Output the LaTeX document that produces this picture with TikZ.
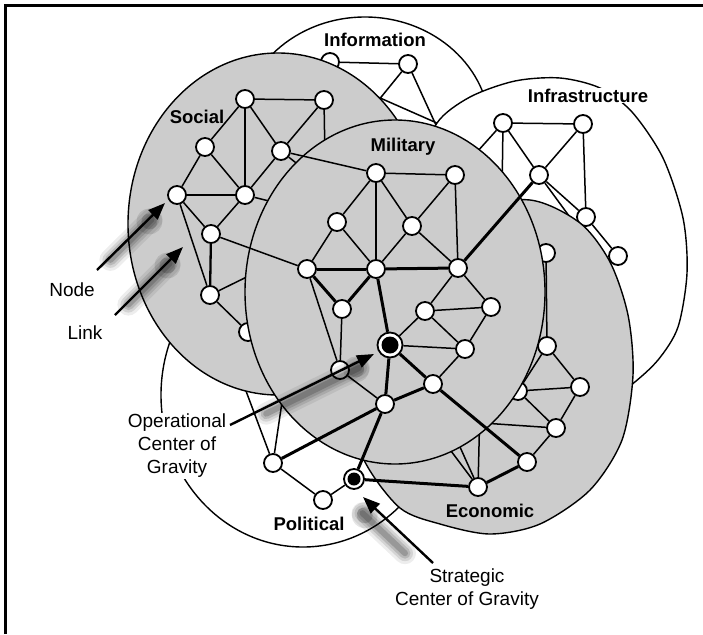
\documentclass[tikz,border=0pt]{standalone}
\usepackage{fontspec}
\setmainfont{Liberation Sans}
\usetikzlibrary{arrows.meta,calc}
\definecolor{eg}{RGB}{204,204,204}
\begin{document}
\begin{tikzpicture}[x=1pt,y=-1pt,
  nd/.style={circle,draw=black,line width=1.8pt,fill=white,minimum size=18pt,inner sep=0pt},
  lk/.style={line width=1.5pt},
  tk/.style={line width=3pt},
  mk/.style={line width=2.3pt},
  region/.style={draw=black,line width=1.4pt},
  ttl/.style={font=\fontsize{18.5}{20}\selectfont\bfseries,anchor=base,inner sep=1pt},
  lbl/.style={font=\fontsize{19}{23}\selectfont,inner sep=1.5pt},
  ocog/.style={circle,draw=black,line width=1.8pt,fill=white,minimum size=25pt,inner sep=0pt,
     path picture={\fill[black] (path picture bounding box.center) circle (8.5pt);}},
  scog/.style={circle,draw=black,line width=1.8pt,fill=white,minimum size=20pt,inner sep=0pt,
     path picture={\fill[black] (path picture bounding box.center) circle (6.5pt);}},
  arr/.style={line width=2.4pt,-{Triangle[length=17pt,width=13pt]}},
  shd/.style={line cap=round,black}
]
\useasboundingbox (0,0) rectangle (703,634);
\fill[white] (0,0) rectangle (703,634);
\draw[line width=3pt] (5.5,634) -- (5.5,6) -- (703,6);

% ---------- Information ----------
\draw[region,fill=white] (365,130) ellipse [x radius=125, y radius=113];
\node[nd] (i1) at (330,62) {};
\node[nd] (i2) at (408,64) {};
\coordinate (ha1) at (369,112);
\coordinate (ha2) at (362,90);
\coordinate (hb1) at (441,136);
\coordinate (hb2) at (455,131);
\draw[lk] (i1) -- (i2);
\draw[lk] (i2) -- (ha1);
\draw[lk] (i2) -- (hb1);
\draw[lk] (ha2) -- (hb2);
\node[ttl] (tinfo) at (375,47) {Information};

% ---------- Infrastructure ----------
\draw[region,fill=white] plot[smooth cycle] coordinates {(437,123) (470,97) (515,81) (560,78) (600,88) (632,112) (663,158) (683,218) (687,273) (678,327) (658,360) (630,386) (590,415) (530,400) (470,340) (430,240) (422,170)};
\node[nd] (n1) at (503,123) {};
\node[nd] (n2) at (583,124) {};
\node[nd] (n3) at (539,175) {};
\node[nd] (n4) at (586,217) {};
\node[nd] (n5) at (618,256) {};
\coordinate (hn1) at (468,162);
\coordinate (hn2) at (502,195);
\coordinate (hn3) at (616,280);
\draw[lk] (n1) -- (n2);
\draw[lk] (n1) -- (n3);
\draw[lk] (n2) -- (n3);
\draw[lk] (n2) -- (n4);
\draw[lk] (n3) -- (n4);
\draw[lk] (n4) -- (n5);
\draw[lk] (n1) -- (hn1);
\draw[lk] (n1) -- (hn2);
\draw[lk] (n3) -- (hn3);
\node[ttl,fill=white] (tinfra) at (588,102) {Infrastructure};

% ---------- Political ----------
\draw[region,fill=white] (303,395) ellipse [x radius=142, y radius=152];
\node[nd] (p1) at (273,463) {};
\node[nd] (p2) at (323,500) {};
\coordinate (hp1) at (240,375);
\coordinate (hp2) at (286,375);
\draw[lk] (p1) -- (hp1);
\draw[lk] (p1) -- (hp2);
\draw[lk] (p1) -- (p2);
\node[ttl] (tpol) at (309,530) {Political};

% ---------- Social ----------
\draw[region,fill=eg] (278,224) ellipse [x radius=150, y radius=171];
\node[nd] (s1) at (245,99) {};
\node[nd] (s2) at (324,100) {};
\node[nd] (s3) at (205,147) {};
\node[nd] (s4) at (281,151) {};
\node[nd] (s5) at (177,195) {};
\node[nd] (s6) at (245,195) {};
\node[nd] (s7) at (211,234) {};
\node[nd] (s8) at (210,295) {};
\node[nd] (s9) at (248,332) {};
\coordinate (hs1) at (265,268);
\coordinate (hs2) at (285,205);
\coordinate (hs3) at (305,170);
\coordinate (hs4) at (325,160);
\draw[lk] (s1) -- (s2);
\draw[lk] (s1) -- (s3);
\draw[lk] (s1) -- (s6);
\draw[lk] (s1) -- (s4);
\draw[lk] (s2) -- (s4);
\draw[lk] (s2) -- (hs4);
\draw[lk] (s3) -- (s5);
\draw[lk] (s3) -- (s6);
\draw[lk] (s4) -- (s6);
\draw[lk] (s4) -- (hs3);
\draw[lk] (s5) -- (s6);
\draw[lk] (s6) -- (s7);
\draw[lk] (s6) -- (hs2);
\draw[lk] (s5) -- (s7);
\draw[lk] (s5) -- (s8);
\draw[mk] (s7) -- (s8);
\draw[lk] (s8) -- (hs1);
\draw[lk] (s8) -- (s9);
\node[ttl] (tsoc) at (197,123) {Social};

% ---------- Economic ----------
\draw[region,fill=eg] plot[smooth cycle] coordinates {(530,200) (580,223) (610,262) (628,315) (633,375) (622,440) (590,490) (540,524) (490,534) (440,524) (400,508) (365,462) (345,400) (360,320) (400,255) (460,210)};
\node[nd] (e1) at (546,253) {};
\node[nd] (e2) at (547,346) {};
\node[nd] (e3) at (580,387) {};
\node[nd] (e4) at (518,391) {};
\node[nd] (e5) at (556,428) {};
\node[nd] (e6) at (527,462) {};
\node[nd] (e7) at (478,487) {};
\coordinate (he1) at (468,422);
\coordinate (he2) at (480,405);
\coordinate (he3) at (436,431);
\coordinate (he4) at (451,427);
\draw[lk] (e1) -- (e2);
\draw[lk] (e2) -- (e3);
\draw[lk] (e2) -- (e4);
\draw[lk] (e4) -- (e3);
\draw[lk] (e3) -- (e5);
\draw[lk] (e4) -- (e5);
\draw[lk] (e5) -- (e6);
\draw[lk] (e5) -- (he1);
\draw[tk] (e6) -- (e7);
\draw[lk] (e7) -- (he2);
\draw[lk] (e7) -- (he3);
\draw[lk] (e7) -- (he4);
\node[ttl] (teco) at (490,517) {Economic};

% ---------- Military ----------
\draw[region,fill=eg] (395,292) ellipse [x radius=150, y radius=172];
\node[nd] (m1) at (376,173) {};
\node[nd] (m2) at (455,175) {};
\node[nd] (m3) at (337,222) {};
\node[nd] (m4) at (412,226) {};
\node[nd] (m5) at (307,269) {};
\node[nd] (m6) at (376,269) {};
\node[nd] (m7) at (458,268) {};
\node[nd] (m8) at (342,309) {};
\node[nd] (m9) at (425,311) {};
\node[nd] (m10) at (491,307) {};
\node[nd] (m11) at (465,349) {};
\node[nd] (m12) at (433,384) {};
\node[nd] (m13) at (385,404) {};
\node[nd] (m14) at (340,370) {};
\node[ocog] (oc) at (390,345) {};
\draw[lk] (m1) -- (m2);
\draw[lk] (m1) -- (m3);
\draw[lk] (m1) -- (m4);
\draw[lk] (m1) -- (m6);
\draw[lk] (m2) -- (m4);
\draw[lk] (m2) -- (m7);
\draw[lk] (m3) -- (m5);
\draw[lk] (m3) -- (m6);
\draw[lk] (m4) -- (m6);
\draw[lk] (m4) -- (m7);
\draw[lk] (m7) -- (m9);
\draw[lk] (m7) -- (m10);
\draw[lk] (m9) -- (m10);
\draw[lk] (m9) -- (oc);
\draw[lk] (m9) -- (m11);
\draw[lk] (m10) -- (m11);
\draw[lk] (oc) -- (m11);
\draw[lk] (m11) -- (m12);
\draw[lk] (m5) -- (m14);
\draw[lk] (m8) -- (m14);
\draw[lk] (m14) -- (m13);
\draw[tk] (m5) -- (m6);
\draw[tk] (m6) -- (m7);
\draw[tk] (m5) -- (m8);
\draw[tk] (m6) -- (m8);
\draw[tk] (m6) -- (oc);
\draw[tk] (oc) -- (m12);
\draw[tk] (oc) -- (m13);
\draw[tk] (m12) -- (m13);
\node[ttl] (tmil) at (403,151) {Military};

% ---------- links between domains ----------
\node[scog] (sc) at (354,479) {};
\draw[lk] (s4) -- (m1);
\draw[lk] (s7) -- (m5);
\draw[tk] (m7) -- (n3);
\draw[tk] (m12) -- (e6);
\draw[tk] (m13) -- (p1);
\draw[tk] (m13) -- (sc);
\draw[tk] (sc) -- (e7);
\draw[lk] (sc) -- (p2);

% ---------- callouts ----------
\node[lbl] (tnode) at (72,290) {Node};
\node[lbl] (tlink) at (85,333) {Link};
\node[lbl,fill=white,align=center] (tog) at (177,446) {Operational\\Center of\\Gravity};
\node[lbl,align=center] (tsg) at (467,589) {Strategic\\Center of Gravity};
\coordinate (ntail) at (97,270);  \coordinate (ntip) at (165,203);
\coordinate (ltail) at (115,315); \coordinate (ltip) at (183,247);
\coordinate (otail) at (230,425); \coordinate (otip) at (374,354);
\coordinate (stail) at (433,563); \coordinate (stip) at (363,497);
\foreach \a/\b in {ntail/ntip,ltail/ltip,otail/otip,stail/stip}{
  \foreach \w/\o in {22/0.07,16/0.10,11/0.13,6/0.17}{
    \draw[shd,line width=\w pt,opacity=\o] ($(\a)!0.3!(\b)+(-7,10)$) -- ($(\b)!9pt!(\a)+(-7,10)$);
  }
  \foreach \r/\o in {13/0.10,8/0.16}{
    \fill[black,opacity=\o] ($(\b)!12pt!(\a)+(-7,10)$) circle (\r pt);
  }
}
\draw[arr] (ntail) -- (ntip);
\draw[arr] (ltail) -- (ltip);
\draw[arr] (otail) -- (otip);
\draw[arr] (stail) -- (stip);
\end{tikzpicture}
\end{document}
